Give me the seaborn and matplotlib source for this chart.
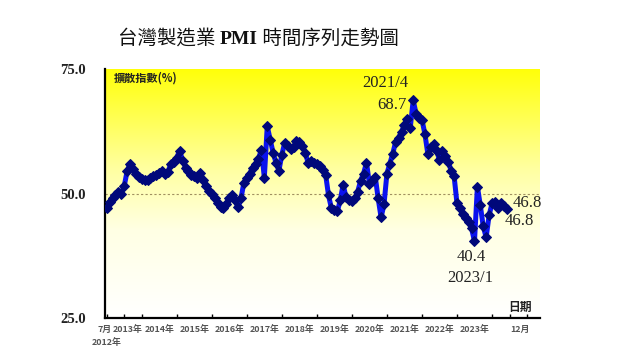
import numpy as np
import matplotlib
matplotlib.use('Agg')
import matplotlib.pyplot as plt
from matplotlib.colors import LinearSegmentedColormap
import seaborn as sns

# Taiwan manufacturing PMI, monthly, 2012/7 - 2023/12
pmi = [
    47.0, 48.2, 49.0, 49.6, 50.4, 50.0,                      # 2012 Jul-Dec
    51.5, 54.5, 56.0, 55.0, 54.0, 53.3, 53.0, 52.8, 52.8, 53.2, 53.5, 53.8,  # 2013
    54.2, 54.6, 54.0, 54.4, 56.0, 56.4, 57.2, 58.6, 56.6, 55.2, 54.6, 53.8,  # 2014
    53.6, 53.2, 54.2, 52.8, 51.6, 50.6, 49.8, 49.0, 48.0, 47.2, 47.0, 47.8,  # 2015
    49.0, 49.6, 48.6, 47.2, 49.0, 52.2, 53.2, 54.0, 55.2, 56.0, 57.0, 58.8,  # 2016
    53.2, 63.5, 60.8, 58.2, 56.2, 54.6, 57.8, 60.2, 59.6, 59.0, 59.4, 60.6,  # 2017
    60.4, 59.6, 58.2, 56.2, 56.6, 56.2, 56.0, 55.6, 54.8, 53.8, 49.6, 47.0,  # 2018
    46.6, 46.4, 48.6, 51.8, 49.2, 48.6, 48.4, 49.0, 50.4, 52.6, 54.0, 56.2,  # 2019
    52.0, 52.6, 53.4, 49.0, 45.2, 47.8, 54.0, 56.0, 58.0, 60.4, 61.2, 62.4,  # 2020
    63.8, 65.0, 63.2, 68.7, 66.0, 65.2, 64.8, 62.0, 58.0, 59.4, 60.0, 58.6,  # 2021
    56.8, 58.6, 57.6, 56.4, 54.6, 53.6, 48.0, 47.0, 45.8, 45.0, 44.2, 43.0,  # 2022
    40.4, 51.4, 47.6, 43.4, 41.2, 45.6, 48.0, 48.2, 47.0, 48.0, 47.4, 46.8,  # 2023
]
month_idx = np.arange(len(pmi))

tick_pos = [-0.6, 7.0, 18, 30, 42, 54, 66, 78, 90, 102, 114, 126, 141.5]
tick_labels = ['7月', '2013年', '2014年', '2015年', '2016年', '2017年',
               '2018年', '2019年', '2020年', '2021年', '2022年', '2023年', '12月']
start_year_label = '2012年'

sns.set_theme(style='white')
plt.rcParams['font.family'] = ['Noto Sans CJK TC', 'DejaVu Sans']

fig = plt.figure(figsize=(6.4, 3.59), dpi=100)
ax = fig.add_axes([0.164, 0.114, 0.680, 0.694])

xmin, xmax = -0.5, 148.5
ymin, ymax = 25, 75

# yellow -> white background gradient
cmap = LinearSegmentedColormap.from_list(
    'bg', [(0.0, '#FFFFFF'), (0.35, '#FFFFE4'), (0.6, '#FFFFA0'), (1.0, '#FFFF08')])
grad = np.linspace(0, 1, 256).reshape(-1, 1)
ax.imshow(grad, extent=[xmin, xmax, ymin, ymax], origin='lower', aspect='auto',
          cmap=cmap, zorder=0)

ax.axhline(50, color='#A09060', lw=0.8, ls=(0, (2, 2)), zorder=1)

sns.lineplot(x=month_idx, y=pmi, ax=ax, color='#0A12EE', linewidth=3.6,
             marker='D', markersize=5, markerfacecolor='#00087A',
             markeredgecolor='#00087A', zorder=3)

ax.set_xlim(xmin, xmax)
ax.set_ylim(ymin, ymax)

for s in ['top', 'right']:
    ax.spines[s].set_visible(False)
ax.spines['left'].set_color('black')
ax.spines['left'].set_linewidth(1.6)
ax.spines['bottom'].set_color('black')
ax.spines['bottom'].set_linewidth(1.6)

ax.set_yticks([25, 50, 75])
ax.set_yticklabels(['25.0', '50.0', '75.0'], family=['Liberation Serif'],
                   fontweight='bold', fontsize=10.5, color='#222222')
ax.tick_params(axis='y', length=0, pad=14)

ax.set_xticks(tick_pos)
ax.set_xticklabels(tick_labels, fontsize=6.4, color='#555555', fontweight='bold')
ax.set_xticks(np.arange(0, 145, 6), minor=True)
ax.tick_params(axis='x', which='major', length=0, pad=5)
ax.tick_params(axis='x', which='minor', direction='in', length=3, width=1,
               color='black', bottom=True)
ax.grid(False)
ax.set_xlabel('')
ax.set_ylabel('')
fig.text(107 / 640, 1 - 342 / 359, start_year_label, fontsize=6.4,
         color='#555555', fontweight='bold', ha='center', va='center')

serif = ['Liberation Serif']
tc = '#222222'
ax.text(2.5, 73.1, '擴散指數(%)', fontsize=8, fontweight='bold', color=tc,
        va='center', ha='left')
ax.text(141.5, 27.2, '日期', fontsize=8.5, fontweight='bold', color=tc,
        va='center', ha='center')
ax.text(95.5, 72.2, '2021/4', family=serif, fontsize=12, color=tc,
        ha='center', va='center')
ax.text(97.8, 67.8, '68.7', family=serif, fontsize=12, color=tc,
        ha='center', va='center')
ax.text(125.0, 37.3, '40.4', family=serif, fontsize=12, color=tc,
        ha='center', va='center')
ax.text(124.7, 33.0, '2023/1', family=serif, fontsize=12, color=tc,
        ha='center', va='center')
ax.text(139.0, 48.0, '46.8', family=serif, fontsize=12, color=tc,
        ha='left', va='center')
ax.text(136.2, 44.4, '46.8', family=serif, fontsize=12, color=tc,
        ha='left', va='center')

# title: CJK regular + bold PMI
t1 = fig.text(118 / 640, 1 - 44 / 359, '台灣製造業 ', fontsize=14, color='#111111',
              va='baseline', ha='left')
t2 = fig.text(0, 0, 'PMI', fontsize=14, family=serif, fontweight='bold',
              color='#111111', va='baseline', ha='left')
t3 = fig.text(0, 0, ' 時間序列走勢圖', fontsize=14, color='#111111',
              va='baseline', ha='left')
fig.canvas.draw()
r = fig.canvas.get_renderer()
inv = fig.transFigure.inverted()
bb1 = t1.get_window_extent(r).transformed(inv)
t2.set_position((bb1.x1, t1.get_position()[1]))
fig.canvas.draw()
bb2 = t2.get_window_extent(r).transformed(inv)
t3.set_position((bb2.x1, t1.get_position()[1]))

fig.savefig('out.png', dpi=100)
